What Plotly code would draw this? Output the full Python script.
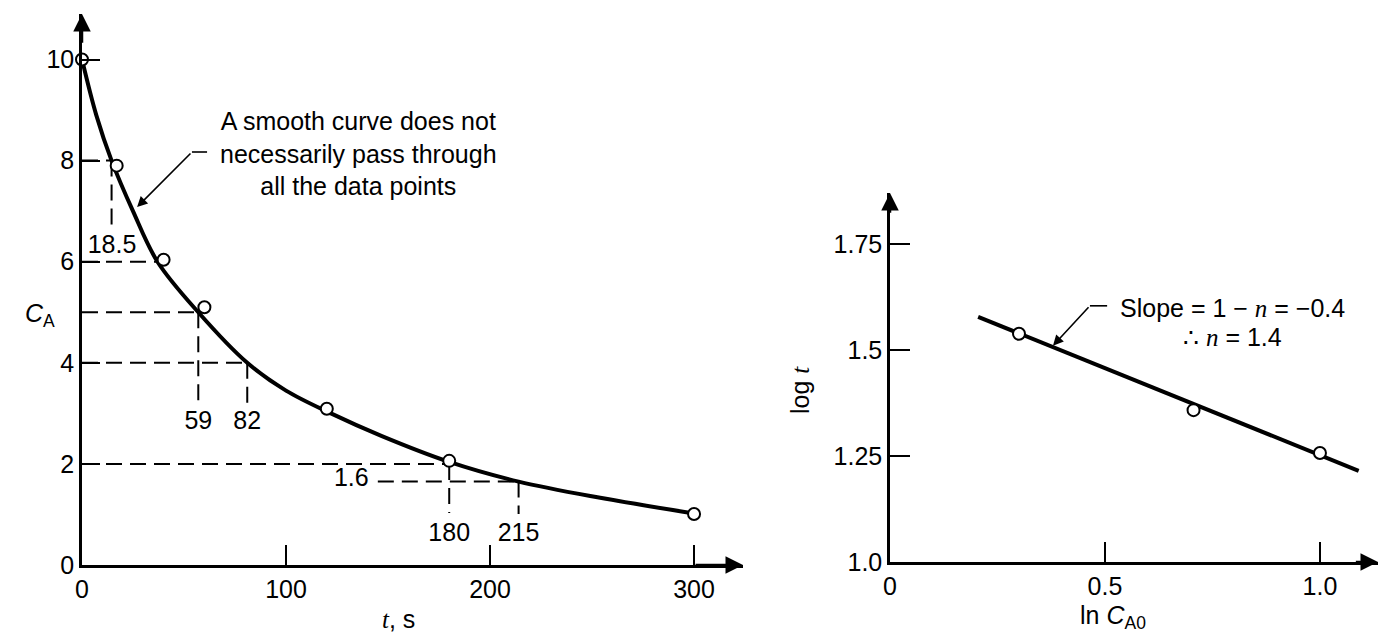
import plotly.graph_objects as go

# ---------------- Left panel: C_A vs t ----------------
t_data = [0, 17, 40, 60, 120, 180, 300]
ca_data = [10, 7.9, 6.04, 5.1, 3.09, 2.06, 1.01]

curve_t = [0, 7, 14.5, 25, 37, 57, 81, 100, 122, 147, 180, 214, 254, 300]
curve_ca = [10, 8.9, 8.0, 7.0, 6.0, 5.0, 4.0, 3.45, 3.0, 2.55, 2.04, 1.65, 1.33, 1.02]

# horizontal read-off guides: level, t start, t end
hguide_c = [8, 6, 5, 4, 2, 1.65]
hguide_t0 = [0, 0, 0, 0, 0, 145]
hguide_t1 = [14.5, 37, 57, 81, 180, 214]
# vertical read-off guides: t, C top, C bottom
vguide_t = [14.5, 57, 81, 180, 214]
vguide_c0 = [8, 5, 4, 2, 1.65]
vguide_c1 = [6.7, 3.17, 3.17, 1.03, 1.01]
# read-off labels
read_labels = ["18.5", "59", "82", "180", "215", "1.6"]
read_lab_t = [14.7, 57, 81, 180, 214, 132]
read_lab_c = [6.29, 2.81, 2.81, 0.59, 0.59, 1.68]

left_xticks = [0, 100, 200, 300]
left_yticks = [0, 2, 4, 6, 8, 10]

# ---------------- Right panel: log t vs ln C_A0 ----------------
ln_ca0 = [0.30, 0.706, 1.0]
log_t = [1.538, 1.358, 1.257]
fit_x = [0.205, 1.09]
fit_y = [1.578, 1.215]
right_xticks = [0, 0.5, 1.0]
right_xticktext = ["0", "0.5", "1.0"]
right_yticks = [1.0, 1.25, 1.5, 1.75]
right_yticktext = ["1.0", "1.25", "1.5", "1.75"]

# page body has an 8px margin; size the figure so it fits the window
OFF = 8
W, H = 1386 - 2 * OFF, 644 - 2 * OFF
FONT = "Liberation Sans"
FS = 25


def px(x):
    return (x - OFF) / W


def py(y):
    return 1 - (y - OFF) / H


fig = go.Figure()

# dashed guides (left)
gx, gy = [], []
for c, a, b in zip(hguide_c, hguide_t0, hguide_t1):
    gx += [a, b, None]
    gy += [c, c, None]
for t, a, b in zip(vguide_t, vguide_c0, vguide_c1):
    gx += [t, t, None]
    gy += [a, b, None]
fig.add_trace(go.Scatter(x=gx, y=gy, mode="lines", xaxis="x", yaxis="y",
                         line=dict(color="black", width=2, dash="16px,8px"),
                         hoverinfo="skip"))

# smooth curve
fig.add_trace(go.Scatter(x=curve_t, y=curve_ca, mode="lines", xaxis="x", yaxis="y",
                         line=dict(color="black", width=4, shape="spline", smoothing=1.0)))
# data points
fig.add_trace(go.Scatter(x=t_data, y=ca_data, mode="markers", xaxis="x", yaxis="y",
                         marker=dict(symbol="circle", size=12, color="white",
                                     line=dict(color="black", width=2)),
                         cliponaxis=False))

# read-off labels
fig.add_trace(go.Scatter(x=read_lab_t, y=read_lab_c, mode="text", text=read_labels,
                         xaxis="x", yaxis="y", textposition="middle center",
                         textfont=dict(family=FONT, size=FS, color="black")))

# right panel line + points
fig.add_trace(go.Scatter(x=fit_x, y=fit_y, mode="lines", xaxis="x2", yaxis="y2",
                         line=dict(color="black", width=4)))
fig.add_trace(go.Scatter(x=ln_ca0, y=log_t, mode="markers", xaxis="x2", yaxis="y2",
                         marker=dict(symbol="circle", size=12, color="white",
                                     line=dict(color="black", width=2))))

axis_common = dict(showgrid=False, zeroline=False, showline=True, linecolor="black",
                   linewidth=2.5, ticks="inside", tickcolor="black", tickwidth=1.5,
                   automargin=False,
                   tickfont=dict(family=FONT, size=FS, color="black"), fixedrange=True)

fig.update_layout(
    width=W, height=H,
    margin=dict(l=0, r=0, t=0, b=0, autoexpand=False),
    paper_bgcolor="white", plot_bgcolor="white",
    showlegend=False,
    xaxis=dict(domain=[px(82), px(743)], range=[0, 324], anchor="y",
               tickvals=left_xticks, ticklen=20, **axis_common),
    yaxis=dict(domain=[py(565), py(14)], range=[0, 10.9], anchor="x",
               tickvals=left_yticks, ticklen=18, **axis_common),
    xaxis2=dict(domain=[px(890), px(1378)], range=[0, 1.135], anchor="y2",
                tickvals=right_xticks, ticktext=right_xticktext, ticklen=20, **axis_common),
    yaxis2=dict(domain=[py(562), py(193)], range=[1.0, 1.87], anchor="x2",
                tickvals=right_yticks, ticktext=right_yticktext, ticklen=20, **axis_common),
)

ann = []
# axis arrowheads
for xr, yr, x, y, ax, ay in [("x", "y", 324, 0, 300, 0), ("x", "y", 0, 10.9, 0, 10.3),
                             ("x2", "y2", 1.135, 1.0, 1.08, 1.0), ("x2", "y2", 0, 1.87, 0, 1.82)]:
    ann.append(dict(x=x, y=y, ax=ax, ay=ay, xref=xr, yref=yr, axref=xr, ayref=yr,
                    showarrow=True, arrowhead=2, arrowsize=1.4, arrowwidth=2.5,
                    arrowcolor="black", text=""))

# left note
ann.append(dict(x=135.3, y=8.14, xref="x", yref="y", showarrow=False,
                text="A smooth curve does not<br>necessarily pass through<br>all the data points",
                font=dict(family=FONT, size=FS, color="black"), align="center",
                xanchor="center", yanchor="middle"))
ann.append(dict(x=27, y=7.08, ax=53.9, ay=8.17, xref="x", yref="y", axref="x", ayref="y",
                showarrow=True, arrowhead=2, arrowsize=1.3, arrowwidth=1.6,
                arrowcolor="black", text=""))
fig.add_shape(type="line", x0=53.9, y0=8.17, x1=61.3, y1=8.17, xref="x", yref="y",
              line=dict(color="black", width=1.6))

# right note
ann.append(dict(x=px(1232), y=py(308), xref="paper", yref="paper", showarrow=False,
                text="Slope = 1 \u2212 <span style='font-family:Liberation Serif'><i>n</i></span> = \u22120.4",
                font=dict(family=FONT, size=FS, color="black"),
                xanchor="center", yanchor="middle"))
ann.append(dict(x=px(1232), y=py(337), xref="paper", yref="paper", showarrow=False,
                text="\u2234 <span style='font-family:Liberation Serif'><i>n</i></span> = 1.4",
                font=dict(family=FONT, size=FS, color="black"),
                xanchor="center", yanchor="middle"))
ann.append(dict(x=0.379, y=1.51, ax=0.465, ay=1.604, xref="x2", yref="y2", axref="x2", ayref="y2",
                showarrow=True, arrowhead=2, arrowsize=1.3, arrowwidth=1.6,
                arrowcolor="black", text=""))
fig.add_shape(type="line", x0=0.465, y0=1.604, x1=0.505, y1=1.604, xref="x2", yref="y2",
              line=dict(color="black", width=1.6))

# axis titles
ann.append(dict(x=px(23), y=py(315), xref="paper", yref="paper", showarrow=False,
                text="<i>C</i><sub>A</sub>", font=dict(family=FONT, size=FS, color="black")))
ann.append(dict(x=px(398), y=py(635), xref="paper", yref="paper", showarrow=False,
                xanchor="center", yanchor="bottom",
                text="<span style='font-family:Liberation Serif'><i>t</i></span>, s",
                font=dict(family=FONT, size=FS, color="black")))
ann.append(dict(x=px(800), y=py(390), xref="paper", yref="paper", showarrow=False,
                textangle=-90,
                text="log <span style='font-family:Liberation Serif'><i>t</i></span>",
                font=dict(family=FONT, size=FS, color="black")))
ann.append(dict(x=px(1113), y=py(635), xref="paper", yref="paper", showarrow=False,
                xanchor="center", yanchor="bottom",
                text="ln <i>C</i><sub>A0</sub>", font=dict(family=FONT, size=FS, color="black")))

fig.update_layout(annotations=ann)
fig.write_html("out.html")
